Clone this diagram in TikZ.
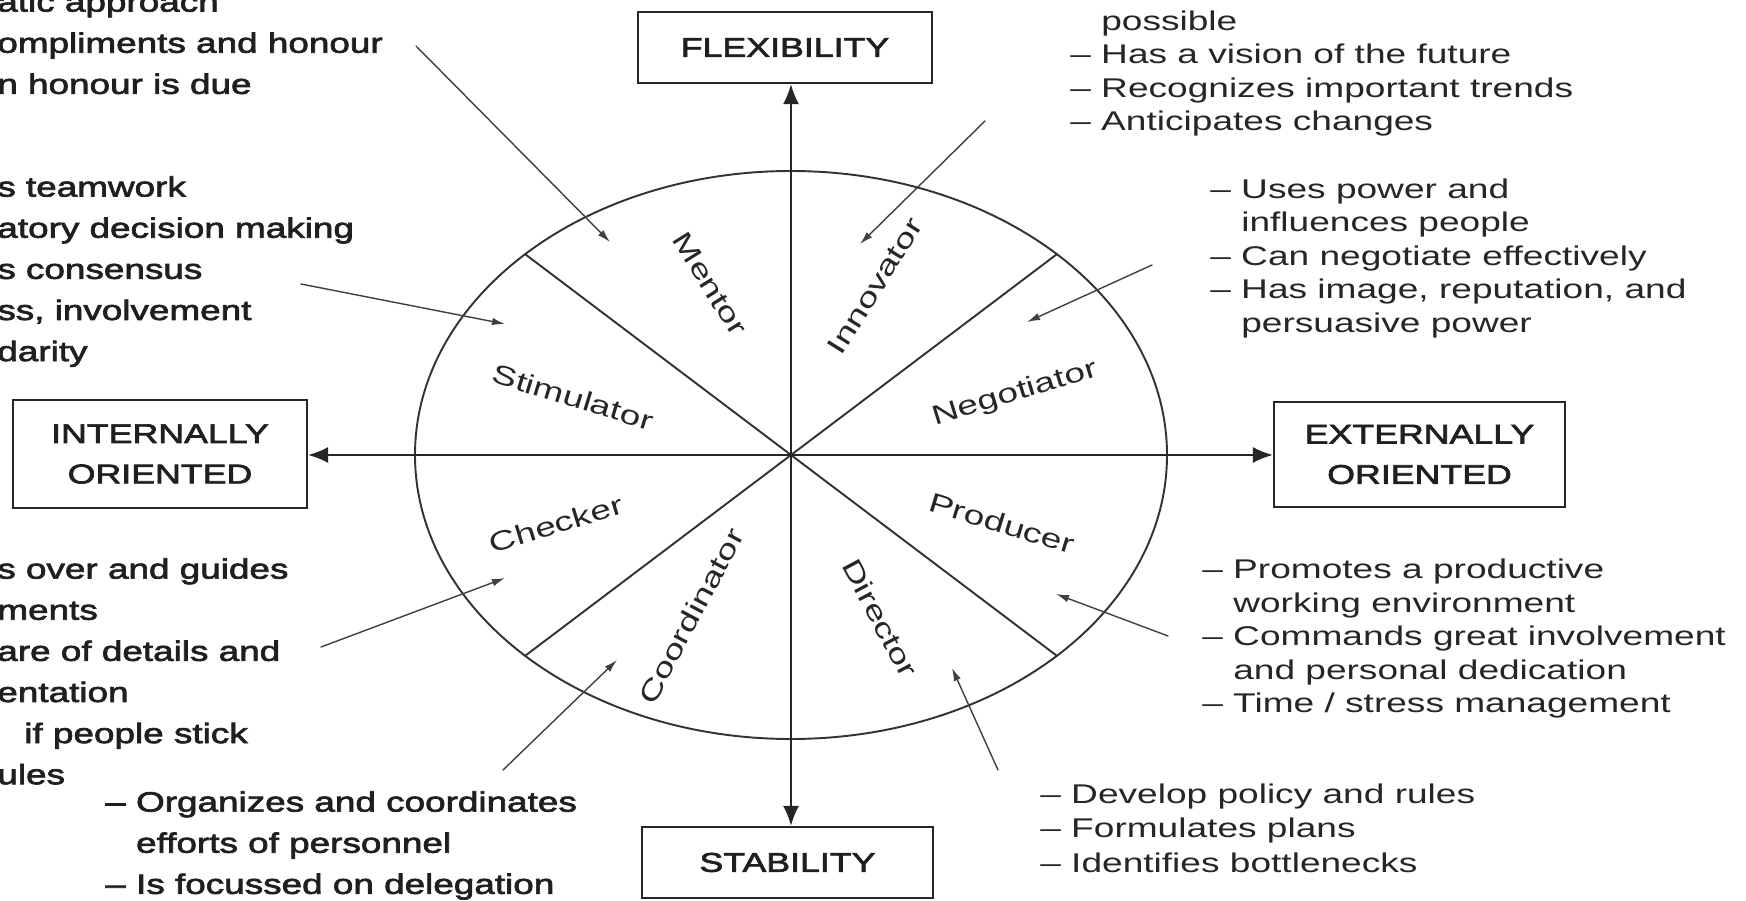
\documentclass[tikz,border=0pt]{standalone}
\usepackage{fontspec}
\setmainfont{Liberation Sans}
% the book figure uses a wide grotesque face
\newfontfamily\widefont[FakeStretch=1.32,FakeBold=2.5]{Liberation Sans}
\newfontfamily\plainfont[FakeStretch=1.37]{Liberation Sans}
\usetikzlibrary{arrows.meta}
\newcommand{\ind}{\hphantom{– }}

\begin{document}
\begin{tikzpicture}[
  x=1cm,
  y=1cm,
  line cap=round,
  axisbox/.style={
    draw=black!85,
    line width=1.3pt,
    inner sep=0pt,
    align=center,
    text=black!88,
    font=\widefont\fontsize{15.4}{23}\selectfont
  },
  axisarrow/.style={draw=black!85, line width=1.1pt, -{Latex[length=4mm,width=3.2mm]}},
  rim/.style={draw=black!80, line width=1.1pt},
  pointer/.style={draw=black!75, line width=0.8pt, -{Latex[length=2.6mm,width=1.5mm]}},
  rolelabel/.style={
    inner sep=0pt,
    text=black!85,
    font=\plainfont\fontsize{15.4}{18}\selectfont
  },
  leftnote/.style={
    anchor=north west,
    align=left,
    inner sep=0pt,
    text=black!88,
    font=\widefont\fontsize{15.9}{23.4}\selectfont
  },
  rightnote/.style={
    anchor=north west,
    align=left,
    inner sep=0pt,
    text=black!85,
    font=\plainfont\fontsize{15.4}{19}\selectfont
  }
]

\path[use as bounding box, fill=white] (0,0) rectangle (34.92,18);

% the four orientations
\node[axisbox, minimum width=5.88cm, minimum height=1.42cm] (flex) at (15.70,17.05) {FLEXIBILITY};
\node[axisbox, minimum width=5.82cm, minimum height=1.42cm] (stab) at (15.75,0.75) {STABILITY};
\node[axisbox, minimum width=5.88cm, minimum height=2.16cm] (intern) at (3.20,8.92) {INTERNALLY\\ORIENTED};
\node[axisbox, minimum width=5.82cm, minimum height=2.10cm] (extern) at (28.39,8.91) {EXTERNALLY\\ORIENTED};

% role wheel
\coordinate (c) at (15.82,8.90);
\draw[rim] (c) ellipse [x radius=7.52, y radius=5.68];
\draw[rim] (c) -- ++(45:7.52 and 5.68);
\draw[rim] (c) -- ++(135:7.52 and 5.68);
\draw[rim] (c) -- ++(225:7.52 and 5.68);
\draw[rim] (c) -- ++(315:7.52 and 5.68);

\draw[axisarrow] (c) -- (c |- flex.south);
\draw[axisarrow] (c) -- (c |- stab.north);
\draw[axisarrow] (c) -- (c -| intern.east);
\draw[axisarrow] (c) -- (c -| extern.west);

\node[rolelabel, rotate=-58] (mentor) at (14.20,12.32) {Mentor};
\node[rolelabel, rotate=58] (innovator) at (17.50,12.28) {Innovator};
\node[rolelabel, rotate=-17] (stimulator) at (11.46,10.06) {Stimulator};
\node[rolelabel, rotate=17] (negotiator) at (20.30,10.12) {Negotiator};
\node[rolelabel, rotate=17] (checker) at (11.12,7.52) {Checker};
\node[rolelabel, rotate=-17] (producer) at (20.04,7.54) {Producer};
\node[rolelabel, rotate=62] (coordinator) at (13.82,5.68) {Coordinator};
\node[rolelabel, rotate=-62] (director) at (17.60,5.64) {Director};

% descriptions of each role
\node[leftnote] (mentortxt) at (-0.06,18.18)
  {atic approach\\ompliments and honour\\n honour is due};
\node[leftnote] (stimtxt) at (-0.06,14.48)
  {s teamwork\\atory decision making\\s consensus\\ss, involvement\\darity};
\node[leftnote] (checktxt) at (-0.06,6.84)
  {s over and guides\\ments\\are of details and\\entation\\\hspace*{0.54cm}if people stick\\ules};
\node[leftnote] (coordtxt) at (2.10,2.18)
  {– Organizes and coordinates\\\ind efforts of personnel\\– Is focussed on delegation};

\node[rightnote] (innovtxt) at (21.40,17.79)
  {\ind possible\\– Has a vision of the future\\– Recognizes important trends\\– Anticipates changes};
\node[rightnote] (negotxt) at (24.20,14.43)
  {– Uses power and\\\ind influences people\\– Can negotiate effectively\\– Has image, reputation, and\\\ind persuasive power};
\node[rightnote] (prodtxt) at (24.04,6.82)
  {– Promotes a productive\\\ind working environment\\– Commands great involvement\\\ind and personal dedication\\– Time / stress management};
\node[rightnote, font=\plainfont\fontsize{15.4}{19.6}\selectfont] (directtxt) at (20.80,2.33)
  {– Develop policy and rules\\– Formulates plans\\– Identifies bottlenecks};

% pointers from the texts into the sectors
\coordinate (mentor-from) at (8.32,17.08);
\coordinate (mentor-to) at (12.20,13.16);
\coordinate (stim-from) at (6.02,12.32);
\coordinate (stim-to) at (10.10,11.52);
\coordinate (innov-from) at (19.70,15.58);
\coordinate (innov-to) at (17.20,13.12);
\coordinate (nego-from) at (23.04,12.70);
\coordinate (nego-to) at (20.54,11.56);
\coordinate (prod-from) at (23.36,5.28);
\coordinate (prod-to) at (21.12,6.12);
\coordinate (direct-from) at (19.96,2.60);
\coordinate (direct-to) at (19.04,4.64);
\coordinate (coord-from) at (10.06,2.60);
\coordinate (coord-to) at (12.34,4.80);
\coordinate (check-from) at (6.42,5.06);
\coordinate (check-to) at (10.10,6.44);

\draw[pointer] (mentor-from) -- (mentor-to);
\draw[pointer] (stim-from) -- (stim-to);
\draw[pointer] (innov-from) -- (innov-to);
\draw[pointer] (nego-from) -- (nego-to);
\draw[pointer] (prod-from) -- (prod-to);
\draw[pointer] (direct-from) -- (direct-to);
\draw[pointer] (coord-from) -- (coord-to);
\draw[pointer] (check-from) -- (check-to);

\end{tikzpicture}
\end{document}
